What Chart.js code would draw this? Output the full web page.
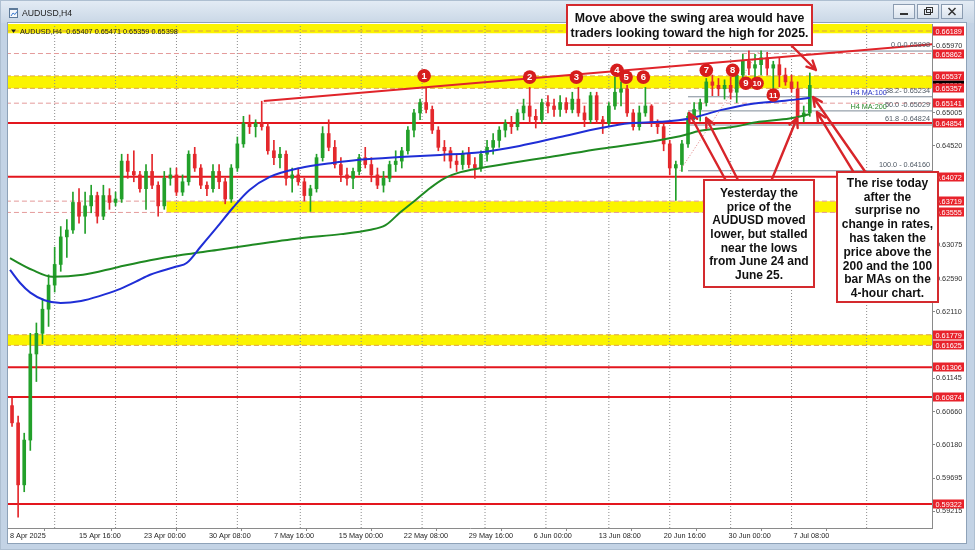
<!DOCTYPE html>
<html>
<head>
<meta charset="utf-8">
<title>AUDUSD,H4</title>
<script src="https://cdn.jsdelivr.net/npm/chart.js@4.4.1/dist/chart.umd.min.js"></script>
<style>
html,body{margin:0;padding:0;background:#fff;overflow:hidden;}
canvas{display:block;}
</style>
</head>
<body>
<canvas id="chart" width="975" height="550"></canvas>
<script>
// ================= DATA =================
const symbolTitle = 'AUDUSD,H4';
const lastBar = { open: 0.65407, high: 0.65471, low: 0.65359, close: 0.65398 };

// 12-hour candles (each spans three 4-hour bars), starting 8 Apr 2025
const candleOpenFirst = 0.6075;
const candleHigh = [
 0.6086,0.6060,0.6035,0.6180,0.6195,0.6230,0.6265,0.6305,0.6335,0.6345,
 0.6385,0.6390,0.6385,0.6395,0.6385,0.6395,0.6390,0.6385,0.6440,0.6440,
 0.6445,0.6415,0.6425,0.6440,0.6400,0.6415,0.6420,0.6420,0.6410,0.6445,
 0.6450,0.6425,0.6400,0.6425,0.6425,0.6405,0.6425,0.6465,0.6495,0.6497,
 0.6490,0.6517,0.6485,0.6460,0.6450,0.6445,0.6420,0.6420,0.6405,0.6395,
 0.6440,0.6480,0.6490,0.6460,0.6435,0.6420,0.6420,0.6440,0.6450,0.6435,
 0.6420,0.6415,0.6430,0.6445,0.6450,0.6480,0.6505,0.6520,0.6537,0.6510,
 0.6480,0.6460,0.6450,0.6440,0.6445,0.6450,0.6435,0.6445,0.6460,0.6470,
 0.6480,0.6490,0.6495,0.6505,0.6520,0.6537,0.6505,0.6520,0.6525,0.6520,
 0.6525,0.6522,0.6530,0.6537,0.6510,0.6530,0.6530,0.6495,0.6515,0.6552,
 0.6545,0.6540,0.6505,0.6510,0.6537,0.6512,0.6490,0.6485,0.6460,0.6430,
 0.6460,0.6500,0.6515,0.6520,0.6550,0.6555,0.6550,0.6548,0.6552,0.6560,
 0.6585,0.6590,0.6585,0.6590,0.6588,0.6575,0.6580,0.6565,0.6555,0.6545,
 0.6510,0.6558];
const candleLow = [
 0.6045,0.5913,0.5950,0.6010,0.6110,0.6165,0.6190,0.6240,0.6270,0.6290,
 0.6325,0.6340,0.6325,0.6355,0.6340,0.6345,0.6360,0.6365,0.6370,0.6405,
 0.6400,0.6385,0.6360,0.6390,0.6350,0.6360,0.6395,0.6380,0.6380,0.6395,
 0.6415,0.6390,0.6380,0.6385,0.6390,0.6368,0.6370,0.6415,0.6450,0.6470,
 0.6465,0.6475,0.6440,0.6425,0.6420,0.6395,0.6385,0.6395,0.6372,0.6357,
 0.6385,0.6430,0.6445,0.6420,0.6400,0.6395,0.6390,0.6410,0.6420,0.6400,
 0.6390,0.6385,0.6400,0.6415,0.6420,0.6440,0.6465,0.6490,0.6500,0.6470,
 0.6445,0.6430,0.6420,0.6415,0.6418,0.6420,0.6405,0.6415,0.6430,0.6440,
 0.6450,0.6465,0.6470,0.6475,0.6490,0.6485,0.6478,0.6485,0.6500,0.6495,
 0.6495,0.6500,0.6500,0.6495,0.6480,0.6485,0.6485,0.6470,0.6480,0.6505,
 0.6510,0.6495,0.6475,0.6475,0.6495,0.6480,0.6470,0.6445,0.6410,0.6373,
 0.6415,0.6450,0.6490,0.6488,0.6510,0.6525,0.6525,0.6520,0.6520,0.6515,
 0.6545,0.6555,0.6550,0.6555,0.6555,0.6535,0.6538,0.6540,0.6530,0.6485,
 0.6487,0.6495];
const candleClose = [
 0.6050,0.5960,0.6025,0.6150,0.6180,0.6215,0.6250,0.6280,0.6320,0.6330,
 0.6370,0.6350,0.6365,0.6380,0.6350,0.6380,0.6370,0.6375,0.6430,0.6415,
 0.6410,0.6390,0.6415,0.6395,0.6365,0.6405,0.6410,0.6385,0.6400,0.6440,
 0.6420,0.6395,0.6390,0.6415,0.6400,0.6375,0.6420,0.6455,0.6485,0.6480,
 0.6485,0.6480,0.6445,0.6435,0.6440,0.6405,0.6410,0.6400,0.6380,0.6390,
 0.6435,0.6470,0.6450,0.6425,0.6410,0.6405,0.6415,0.6435,0.6425,0.6410,
 0.6395,0.6405,0.6425,0.6430,0.6445,0.6475,0.6500,0.6515,0.6505,0.6475,
 0.6450,0.6445,0.6430,0.6425,0.6440,0.6425,0.6420,0.6440,0.6450,0.6460,
 0.6475,0.6485,0.6480,0.6500,0.6510,0.6495,0.6490,0.6515,0.6510,0.6505,
 0.6515,0.6505,0.6520,0.6500,0.6490,0.6525,0.6490,0.6485,0.6510,0.6530,
 0.6535,0.6500,0.6480,0.6500,0.6510,0.6485,0.6480,0.6455,0.6420,0.6425,
 0.6455,0.6495,0.6505,0.6515,0.6545,0.6540,0.6535,0.6540,0.6530,0.6555,
 0.6575,0.6565,0.6570,0.6580,0.6565,0.6570,0.6555,0.6545,0.6535,0.6495,
 0.6500,0.6540];

// Moving averages (x = 4-hour bar number from 8 Apr 2025)
const ma100Bars   = [0,5,10,17,25,35,44,53,62,69,82,87,94,102,110,118,128,143,158,172,192,212,232,251,271,291,305,320,335,350,365,379,389,394];
const ma100Values = [0.6272,0.6253,0.6239,0.6228,0.6224,0.6227,0.6234,0.6243,0.6255,0.6265,0.6277,0.6282,0.6306,0.6334,0.6363,0.6388,0.6407,0.6420,0.6427,0.6432,0.6436,0.6439,0.6443,0.6452,0.6465,0.6478,0.6485,0.6487,0.6492,0.6504,0.6513,0.6517,0.6520,0.6522];
const ma200Bars   = [0,11,21,36,53,69,85,102,118,143,163,177,185,192,200,207,214,222,232,246,266,291,315,330,340,355,369,384,394];
const ma200Values = [0.6289,0.6272,0.6262,0.6265,0.6276,0.6286,0.6294,0.6301,0.6308,0.6318,0.6324,0.6330,0.6337,0.6355,0.6374,0.6391,0.6405,0.6414,0.6420,0.6427,0.6436,0.6448,0.6458,0.6466,0.6474,0.6479,0.6487,0.6492,0.6498];

// Axis labels
const xLabelBars = [0,34,66,98,130,162,194,226,258,290,322,354,386];
const xLabels = ['8 Apr 2025','15 Apr 16:00','23 Apr 00:00','30 Apr 08:00','7 May 16:00','15 May 00:00','22 May 08:00','29 May 16:00','6 Jun 00:00','13 Jun 08:00','20 Jun 16:00','30 Jun 00:00','7 Jul 08:00'];
const gridBars = [22,52,82,112,143,173,203,234,264,295,325,355,385,422];
const yTickValues = [0.65970,0.65005,0.64520,0.63075,0.62590,0.62110,0.61145,0.60660,0.60180,0.59695,0.59215];

// Drawn levels
const solidLevels  = [0.64854,0.64072,0.61306,0.60874,0.59322];
const dashedLevels = [0.65862,0.65141,0.63719,0.63555];
const zoneEdges    = [0.66189,0.65537,0.65357,0.61779,0.61625];
const zoneTop      = [0.6632,0.65537,0.63719,0.61779];
const zoneBottom   = [0.66155,0.65357,0.63555,0.61625];
const zoneStartBar = [-2,-2,77,-2];
const priceTags    = [0.66189,0.65862,0.65537,0.65357,0.65141,0.64854,0.64072,0.63719,0.63555,0.61779,0.61625,0.61306,0.60874,0.59322];

const trendBars   = [125,460];
const trendValues = [0.65174,0.66010];

const fibLevels   = [0.65898,0.65234,0.65029,0.64824,0.64160];
const fibTexts    = ['0.0-0.65898','38.2- 0.65234','50.0 -0.65029','61.8 -0.64824','100.0 - 0.64160'];
const fibStartBar = 334;
const fibDiagBars = [330,369];
const fibDiagValues = [0.64160,0.65898];
const maLabelBar = 414;

const markerBars   = [204,256,279,299,303.5,312,343,356,362.5,368,376];
const markerValues = [0.6554,0.6552,0.6552,0.6562,0.6552,0.6552,0.6562,0.6562,0.6543,0.6543,0.6526];

// arrows: [fromBar, fromValue, toBar, toValue]
const arrowList = [
 [384.7,0.65986,397.0,0.65623],
 [356.2,0.63826,334.5,0.64998],
 [362.1,0.63826,342.9,0.64926],
 [372.4,0.63826,387.7,0.64926],
 [426.1,0.63942,395.6,0.65231],
 [419.7,0.63942,397.5,0.65013]
];

const topBoxText   = ['Move above the swing area would have','traders looking toward the high for 2025.'];
const midBoxText   = ['Yesterday the','price of the','AUDUSD moved','lower, but stalled','near the lows','from June 24 and','June 25.'];
const rightBoxText = ['The rise today','after the','surprise no','change in rates,','has taken the','price above the','200 and the 100','bar MAs on the','4-hour chart.'];

// ================= BUILD =================
const FONT = "'Liberation Sans', Arial, Helvetica, sans-serif";
const X_MIN = -0.985, X_MAX = 454.19;
const Y_MIN = 0.589735, Y_MAX = 0.662906;
const UP = '#22a02a', DN = '#e4282c';

const candleBar  = candleClose.map((_, i) => i * 3 + 1);
const candleOpen = candleClose.map((c, i) => i === 0 ? candleOpenFirst : candleClose[i - 1]);
const candleCol  = candleClose.map((c, i) => c >= candleOpen[i] ? UP : DN);

const datasets = [];
const hline = (v, from, color, width, dash, order) => ({
  type: 'line', data: [{x: from, y: v}, {x: 470, y: v}], borderColor: color, borderWidth: width,
  borderDash: dash, pointRadius: 0, fill: false, order, clip: 0
});

zoneTop.forEach((t, i) => datasets.push({
  type: 'line', data: [{x: zoneStartBar[i], y: t}, {x: 470, y: t}],
  fill: {value: zoneBottom[i]}, backgroundColor: '#fbf400', borderWidth: 0, borderColor: 'rgba(0,0,0,0)',
  pointRadius: 0, order: 30, clip: 0
}));
gridBars.forEach(b => datasets.push({
  type: 'line', data: [{x: b, y: Y_MIN}, {x: b, y: Y_MAX}], borderColor: '#8c8c8c', borderWidth: 1,
  borderDash: [1, 2], pointRadius: 0, fill: false, order: 29, clip: 0
}));
zoneEdges.forEach(v => datasets.push(hline(v, -2, '#dba24a', 1, [5, 3], 25)));
dashedLevels.forEach(v => datasets.push(hline(v, -2, '#e49a9a', 1, [5, 3], 24)));
solidLevels.forEach(v => datasets.push(hline(v, -2, '#e3161e', 2, [], 22)));
fibLevels.forEach((v, i) => datasets.push(hline(v, fibStartBar, '#7e8a98', 1, [], 21)));
datasets.push({
  type: 'line', data: fibDiagBars.map((b, i) => ({x: b, y: fibDiagValues[i]})), borderColor: '#e07a7a',
  borderWidth: 1, borderDash: [1, 2], pointRadius: 0, fill: false, order: 20, clip: 0
});
datasets.push({
  type: 'bar', data: candleBar.map((b, i) => ({x: b, y: [candleLow[i], candleHigh[i]]})),
  backgroundColor: candleCol, borderWidth: 0, barThickness: 1, grouped: false, order: 8
});
datasets.push({
  type: 'bar', data: candleBar.map((b, i) => ({x: b, y: [Math.min(candleOpen[i], candleClose[i]), Math.max(candleOpen[i], candleClose[i])]})),
  backgroundColor: candleCol, borderWidth: 0, barThickness: 3, minBarLength: 1, grouped: false, order: 7
});
datasets.push({
  type: 'line', data: ma200Bars.map((b, i) => ({x: b, y: ma200Values[i]})), borderColor: '#1f8a22', borderWidth: 2,
  pointRadius: 0, fill: false, cubicInterpolationMode: 'monotone', order: 4, clip: 0
});
datasets.push({
  type: 'line', data: ma100Bars.map((b, i) => ({x: b, y: ma100Values[i]})), borderColor: '#1f2ed6', borderWidth: 2,
  pointRadius: 0, fill: false, cubicInterpolationMode: 'monotone', order: 3, clip: 0
});
datasets.push({
  type: 'line', data: trendBars.map((b, i) => ({x: b, y: trendValues[i]})), borderColor: '#e0242a', borderWidth: 2,
  pointRadius: 0, fill: false, order: 2, clip: 0
});

// ================= PLUGINS =================
const chromePlugin = {
  id: 'chrome',
  beforeDraw(chart) {
    const ctx = chart.ctx;
    ctx.save();
    ctx.fillStyle = '#c3d3e5'; ctx.fillRect(0, 0, 975, 550);
    const g = ctx.createLinearGradient(0, 0, 0, 23);
    g.addColorStop(0, '#e4ecf5'); g.addColorStop(1, '#c9d7e6');
    ctx.fillStyle = g; ctx.fillRect(0, 0, 975, 23);
    ctx.fillStyle = '#ffffff'; ctx.fillRect(8, 23, 958, 520);
    ctx.strokeStyle = '#8ea2b8'; ctx.lineWidth = 1; ctx.strokeRect(7.5, 22.5, 959, 521);
    ctx.strokeStyle = '#aebfd1'; ctx.strokeRect(0.5, 0.5, 974, 549);
    ctx.fillStyle = '#f4f7fb'; ctx.fillRect(9, 8, 9, 10);
    ctx.strokeStyle = '#5d7a99'; ctx.strokeRect(9.5, 8.5, 8, 9);
    ctx.fillStyle = '#5d7a99'; ctx.fillRect(9, 8, 9, 2);
    ctx.strokeStyle = '#3a7bd0'; ctx.beginPath(); ctx.moveTo(11, 16); ctx.lineTo(13, 13); ctx.lineTo(15, 14.5); ctx.lineTo(17, 11.5); ctx.stroke();
    ctx.fillStyle = '#1b1b1b'; ctx.font = `8.7px ${FONT}`; ctx.textBaseline = 'middle'; ctx.textAlign = 'left';
    ctx.fillText(symbolTitle, 22, 14);
    const btn = (x, kind) => {
      const bg = ctx.createLinearGradient(0, 4, 0, 19);
      bg.addColorStop(0, '#f8fafd'); bg.addColorStop(1, '#d6e0eb');
      ctx.fillStyle = bg; ctx.fillRect(x, 4, 22, 15);
      ctx.strokeStyle = '#8a9bb0'; ctx.strokeRect(x + 0.5, 4.5, 21, 14);
      ctx.strokeStyle = '#333'; ctx.fillStyle = '#333'; ctx.lineWidth = 1;
      const cx = x + 11;
      if (kind === 0) { ctx.fillRect(cx - 4, 13, 8, 2); }
      else if (kind === 1) { ctx.strokeRect(cx - 3.5, 9.5, 6, 5); ctx.strokeRect(cx - 1.5, 7.5, 6, 5); }
      else { ctx.lineWidth = 1.5; ctx.beginPath(); ctx.moveTo(cx - 3.5, 8); ctx.lineTo(cx + 3.5, 15); ctx.moveTo(cx + 3.5, 8); ctx.lineTo(cx - 3.5, 15); ctx.stroke(); }
    };
    btn(893, 0); btn(917, 1); btn(941, 2);
    ctx.restore();
  }
};

const overlayPlugin = {
  id: 'overlay',
  afterDraw(chart) {
    const ctx = chart.ctx, a = chart.chartArea;
    const xs = chart.scales.x, ys = chart.scales.y;
    const px = b => xs.getPixelForValue(b), py = v => ys.getPixelForValue(v);
    ctx.save();
    ctx.save();
    ctx.beginPath(); ctx.rect(a.left, a.top, a.right - a.left, a.bottom - a.top); ctx.clip();
    ctx.fillStyle = '#202020';
    ctx.beginPath(); ctx.moveTo(11, 29.5); ctx.lineTo(16, 29.5); ctx.lineTo(13.5, 33); ctx.closePath(); ctx.fill();
    ctx.font = `7.3px ${FONT}`; ctx.textAlign = 'left'; ctx.textBaseline = 'middle';
    ctx.fillText(`${symbolTitle}  ${lastBar.open.toFixed(5)} ${lastBar.high.toFixed(5)} ${lastBar.low.toFixed(5)} ${lastBar.close.toFixed(5)}`, 20, 31.5);
    ctx.fillStyle = '#2a35c8'; ctx.fillText('H4 MA:100', px(maLabelBar), py(fibLevels[1]) - 4);
    ctx.fillStyle = '#2c8a2c'; ctx.fillText('H4 MA:200', px(maLabelBar), py(fibLevels[2]) - 4);
    ctx.fillStyle = '#4f5964'; ctx.textAlign = 'right'; ctx.textBaseline = 'bottom';
    fibLevels.forEach((v, i) => ctx.fillText(fibTexts[i], a.right - 2, py(v) - 2));
    ctx.restore();

    ctx.font = `7.3px ${FONT}`; ctx.textAlign = 'left'; ctx.textBaseline = 'middle';
    const tag = (v, bg) => {
      const y = Math.round(py(v));
      ctx.fillStyle = bg; ctx.fillRect(a.right + 1, y - 4.5, 31, 9);
      ctx.fillStyle = '#fff'; ctx.fillText(v.toFixed(5), a.right + 3.5, y + 0.5);
    };
    tag(lastBar.close, '#000');
    priceTags.forEach(v => tag(v, '#e8222b'));

    ctx.strokeStyle = '#d8252a'; ctx.lineWidth = 2.4; ctx.lineCap = 'round';
    arrowList.forEach(([fb, fv, tb, tv]) => {
      const x1 = px(fb), y1 = py(fv), x2 = px(tb), y2 = py(tv);
      const ang = Math.atan2(y2 - y1, x2 - x1), L = 10;
      ctx.beginPath(); ctx.moveTo(x1, y1); ctx.lineTo(x2, y2);
      ctx.moveTo(x2, y2); ctx.lineTo(x2 - L * Math.cos(ang - 0.45), y2 - L * Math.sin(ang - 0.45));
      ctx.moveTo(x2, y2); ctx.lineTo(x2 - L * Math.cos(ang + 0.45), y2 - L * Math.sin(ang + 0.45));
      ctx.stroke();
    });

    markerBars.forEach((b, i) => {
      const x = px(b), y = py(markerValues[i]);
      ctx.fillStyle = '#d61c1c'; ctx.beginPath(); ctx.arc(x, y, 6.8, 0, Math.PI * 2); ctx.fill();
      ctx.fillStyle = '#fff'; ctx.font = `bold ${i >= 9 ? 8 : 9.5}px ${FONT}`;
      ctx.textAlign = 'center'; ctx.textBaseline = 'middle';
      ctx.fillText(String(i + 1), x, y + 0.5);
    });

    const box = (x, y, w, h, lines, fy, lh, fs) => {
      ctx.fillStyle = '#fff'; ctx.fillRect(x, y, w, h);
      ctx.strokeStyle = '#d42a2e'; ctx.lineWidth = 2; ctx.strokeRect(x, y, w, h);
      ctx.fillStyle = '#111'; ctx.font = `bold ${fs}px ${FONT}`;
      ctx.textAlign = 'center'; ctx.textBaseline = 'middle';
      lines.forEach((t, i) => ctx.fillText(t, x + w / 2, fy + i * lh));
    };
    box(567, 5, 245, 40, topBoxText, 18.5, 15, 12.3);
    box(704, 180, 110, 107, midBoxText, 193.5, 13.7, 12);
    box(837, 172, 101, 130, rightBoxText, 183.5, 13.8, 12);
    ctx.restore();
  }
};

// ================= CHART =================
new Chart(document.getElementById('chart'), {
  type: 'bar',
  data: { datasets },
  options: {
    responsive: false, animation: false, devicePixelRatio: 1,
    layout: { padding: { left: 8, top: 24, right: 0, bottom: 0 } },
    plugins: { legend: { display: false }, tooltip: { enabled: false } },
    scales: {
      x: {
        type: 'linear', position: 'bottom', min: X_MIN, max: X_MAX, offset: false,
        afterFit(s) { s.height = 22; },
        afterBuildTicks(s) { s.ticks = xLabelBars.map(v => ({ value: v })); },
        ticks: { autoSkip: false, maxRotation: 0, minRotation: 0, align: 'start', padding: 1,
                 color: '#1e1e1e', font: { family: FONT, size: 7.3 }, callback: (v, i) => xLabels[i] },
        grid: { drawOnChartArea: false, drawTicks: true, tickLength: 3, color: '#8a8a8a' },
        border: { color: '#8a8a8a' }
      },
      y: {
        type: 'linear', position: 'right', min: Y_MIN, max: Y_MAX,
        afterFit(s) { s.width = 43; },
        afterBuildTicks(s) { s.ticks = yTickValues.map(v => ({ value: v })); },
        ticks: { padding: 1, color: '#333', font: { family: FONT, size: 7.3 }, callback: v => Number(v).toFixed(5) },
        grid: { drawOnChartArea: false, drawTicks: true, tickLength: 3, color: '#8a8a8a' },
        border: { color: '#8a8a8a' }
      }
    }
  },
  plugins: [chromePlugin, overlayPlugin]
});
</script>
</body>
</html>
